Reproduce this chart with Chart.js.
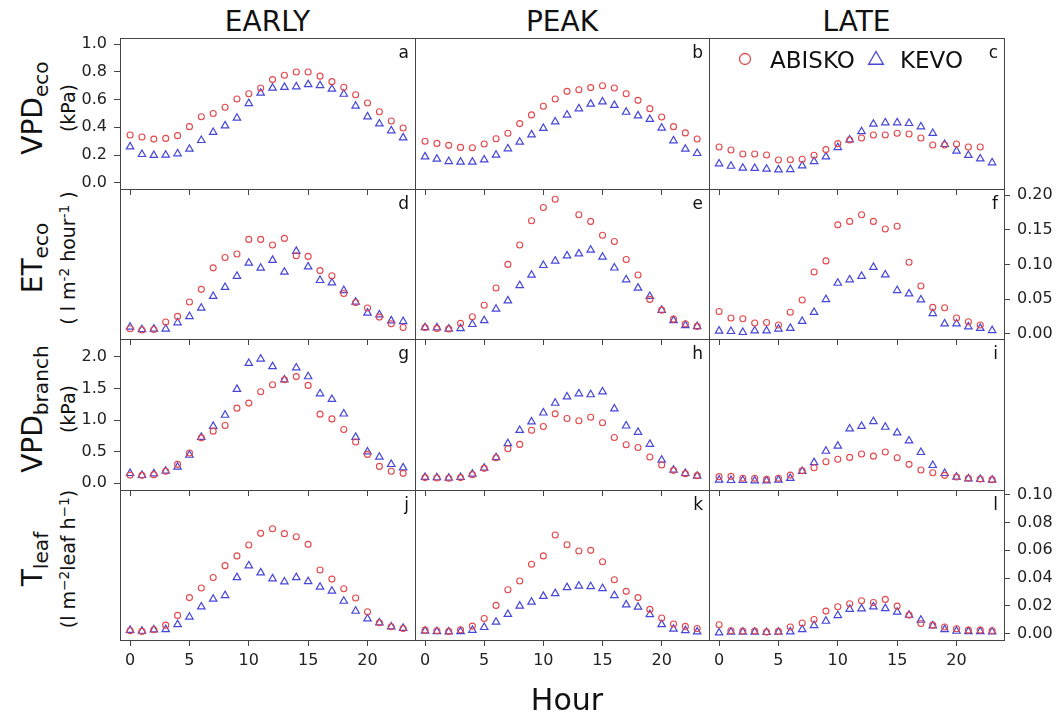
<!DOCTYPE html>
<html>
<head>
<meta charset="utf-8">
<script src="https://cdn.jsdelivr.net/npm/chart.js@4.4.1/dist/chart.umd.min.js"></script>
<style>
  body { margin: 0; background: #fff; }
  #page { position: relative; width: 1056px; height: 713px; overflow: hidden; font-family: 'DejaVu Sans', sans-serif; color: #111; }
  .panel { position: absolute; }
  .title { position: absolute; top: 5px; font-size: 28px; line-height: 34px; text-align: center; }
  .hour { position: absolute; left: 467px; width: 200px; top: 682px; font-size: 30px; line-height: 36px; text-align: center; }
  .ylab { position: absolute; width: 220px; text-align: center; transform: rotate(-90deg); white-space: nowrap; }
  .ylab .l1 { font-size: 28px; line-height: 34px; }
  .ylab .l2 { font-size: 19px; line-height: 24px; margin-top: 6px; }
  .ylab sub { font-size: 0.72em; vertical-align: -0.28em; line-height: 0; }
  .ylab sup { font-size: 0.72em; vertical-align: 0.45em; line-height: 0; }
</style>
</head>
<body>
<div id="page"></div>
<script>
// hours of the day and axis ticks
const hours = [0,1,2,3,4,5,6,7,8,9,10,11,12,13,14,15,16,17,18,19,20,21,22,23];
const xTicks = [0, 5, 10, 15, 20];
const periods = ['EARLY', 'PEAK', 'LATE'];
const siteNames = ['ABISKO', 'KEVO'];
const panelLetters = ['a','b','c','d','e','f','g','h','i','j','k','l'];
const yTicksVpdEco = [0.0, 0.2, 0.4, 0.6, 0.8, 1.0];
const yTicksEtEco = [0.00, 0.05, 0.10, 0.15, 0.20];
const yTicksVpdBranch = [0.0, 0.5, 1.0, 1.5, 2.0];
const yTicksTleaf = [0.00, 0.02, 0.04, 0.06, 0.08, 0.10];

// VPD eco (kPa)
const abiskoVpdEcoEarly = [0.345,0.33,0.315,0.32,0.34,0.405,0.477,0.50,0.545,0.605,0.643,0.684,0.745,0.776,0.80,0.80,0.77,0.73,0.69,0.636,0.576,0.513,0.446,0.395];
const kevoVpdEcoEarly   = [0.26,0.205,0.198,0.20,0.21,0.243,0.306,0.364,0.412,0.467,0.573,0.648,0.684,0.69,0.694,0.71,0.703,0.677,0.64,0.554,0.477,0.426,0.376,0.325];
const abiskoVpdEcoPeak  = [0.30,0.284,0.27,0.255,0.253,0.28,0.318,0.357,0.427,0.49,0.552,0.605,0.66,0.672,0.687,0.70,0.684,0.643,0.595,0.535,0.475,0.405,0.36,0.316];
const kevoVpdEcoPeak    = [0.188,0.171,0.154,0.15,0.15,0.166,0.20,0.246,0.294,0.347,0.393,0.44,0.49,0.535,0.569,0.585,0.56,0.51,0.484,0.458,0.395,0.304,0.243,0.212];
const abiskoVpdEcoLate  = [0.258,0.236,0.207,0.207,0.20,0.164,0.166,0.169,0.198,0.239,0.282,0.308,0.323,0.345,0.345,0.357,0.352,0.323,0.272,0.272,0.28,0.258,0.258,null];
const kevoVpdEcoLate    = [0.137,0.12,0.106,0.104,0.099,0.094,0.096,0.123,0.154,0.188,0.255,0.31,0.37,0.424,0.434,0.434,0.429,0.405,0.357,0.277,0.229,0.198,0.173,0.145];

// ET eco (l m-2 hour-1)
const abiskoEtEcoEarly = [0.0072,0.0053,0.006,0.017,0.025,0.0457,0.064,0.095,0.11,0.115,0.136,0.136,0.128,0.1375,0.1125,0.1115,0.091,0.0837,0.058,0.045,0.037,0.024,0.0144,0.009];
const kevoEtEcoEarly   = [0.0096,0.006,0.007,0.007,0.016,0.025,0.037,0.054,0.067,0.083,0.102,0.0947,0.106,0.089,0.119,0.0966,0.077,0.0735,0.0625,0.0457,0.030,0.0274,0.0188,0.0178];
const abiskoEtEcoPeak  = [0.009,0.0077,0.007,0.015,0.0245,0.041,0.066,0.10,0.128,0.163,0.182,0.194,null,0.1716,0.162,0.142,0.133,0.107,0.0846,0.0495,0.034,0.021,0.0144,0.0106];
const kevoEtEcoPeak    = [0.009,0.0087,0.007,0.0077,0.0135,0.019,0.0356,0.0476,0.0697,0.0846,0.0986,0.105,0.1125,0.1154,0.1207,0.1106,0.095,0.078,0.066,0.054,0.034,0.019,0.012,0.0106];
const abiskoEtEcoLate  = [0.032,0.0226,0.0216,0.0154,0.0163,0.0125,0.031,0.0486,0.089,0.105,0.157,0.162,0.1716,0.162,0.151,0.155,0.103,0.0688,0.038,0.0375,0.0226,0.0173,0.0125,null];
const kevoEtEcoLate    = [0.004,0.0034,0.002,0.0043,0.0043,0.007,0.008,0.018,0.031,0.0495,0.073,0.078,0.083,0.096,0.085,0.0625,0.0577,0.049,0.0293,0.0144,0.0144,0.010,0.008,0.0048];

// VPD branch (kPa)
const abiskoVpdBranchEarly = [0.13,0.126,0.137,0.19,0.30,0.479,0.72,0.826,0.916,1.19,1.27,1.45,1.56,1.64,1.69,1.55,1.095,1.02,0.853,0.653,0.458,0.268,0.19,0.158];
const kevoVpdBranchEarly   = [0.158,0.126,0.153,0.195,0.258,0.447,0.73,0.905,1.08,1.49,1.90,1.97,1.85,1.64,1.83,1.69,1.42,1.33,1.10,0.73,0.50,0.416,0.30,0.247];
const abiskoVpdBranchPeak  = [0.09,0.084,0.079,0.09,0.137,0.237,0.405,0.547,0.616,0.84,0.9,1.10,1.026,0.99,1.047,0.958,0.726,0.61,0.568,0.416,0.29,0.205,0.153,0.121];
const kevoVpdBranchPeak    = [0.095,0.09,0.084,0.095,0.147,0.242,0.41,0.63,0.84,0.974,1.116,1.27,1.37,1.42,1.405,1.45,1.18,0.91,0.81,0.62,0.368,0.21,0.158,0.116];
const abiskoVpdBranchLate  = [0.105,0.11,0.079,0.079,0.063,0.079,0.13,0.20,0.247,0.342,0.38,0.41,0.463,0.43,0.495,0.405,0.30,0.21,0.168,0.126,0.10,0.079,0.068,0.058];
const kevoVpdBranchLate    = [0.053,0.047,0.047,0.042,0.042,0.053,0.079,0.19,0.33,0.51,0.59,0.863,0.905,0.98,0.89,0.80,0.674,0.49,0.284,0.158,0.10,0.074,0.063,0.053];

// T leaf (l m-2 leaf h-1)
const abiskoTleafEarly = [0.0022,0.0017,0.0029,0.0062,0.0132,0.026,0.0329,0.0405,0.049,0.056,0.0638,0.0722,0.0755,0.072,0.0698,0.0643,0.0458,0.0393,0.0324,0.0257,0.0158,0.0079,0.005,0.0038];
const kevoTleafEarly   = [0.0026,0.0019,0.0029,0.0031,0.0067,0.012,0.0194,0.025,0.0276,0.0405,0.049,0.0439,0.0396,0.0374,0.0405,0.0376,0.0336,0.0307,0.0235,0.0163,0.0108,0.0079,0.005,0.004];
const abiskoTleafPeak  = [0.0026,0.0022,0.0017,0.0029,0.0055,0.011,0.0204,0.0317,0.0379,0.05,0.056,0.071,0.064,0.0595,0.06,0.0518,0.0388,0.0305,0.026,0.0175,0.0113,0.007,0.0053,0.0038];
const kevoTleafPeak    = [0.0019,0.0017,0.0014,0.0017,0.0026,0.0046,0.0084,0.014,0.02,0.0228,0.027,0.029,0.0333,0.0343,0.034,0.0326,0.0276,0.0209,0.0192,0.0139,0.0067,0.0034,0.0024,0.0014];
const abiskoTleafLate  = [0.0065,0.0022,0.0019,0.0019,0.0012,0.0017,0.0048,0.0077,0.0103,0.0163,0.0194,0.0216,0.0237,0.0225,0.0247,0.0199,0.0134,0.0074,0.0062,0.0048,0.0036,0.0026,0.0026,0.0022];
const kevoTleafLate    = [0.0007,0.0012,0.0012,0.0012,0.001,0.0012,0.0014,0.0031,0.006,0.0091,0.0132,0.0177,0.018,0.0194,0.0182,0.0156,0.0134,0.0098,0.0058,0.0031,0.0019,0.0017,0.0017,0.0014];

const panelData = [
  [[abiskoVpdEcoEarly, kevoVpdEcoEarly], [abiskoVpdEcoPeak, kevoVpdEcoPeak], [abiskoVpdEcoLate, kevoVpdEcoLate]],
  [[abiskoEtEcoEarly, kevoEtEcoEarly], [abiskoEtEcoPeak, kevoEtEcoPeak], [abiskoEtEcoLate, kevoEtEcoLate]],
  [[abiskoVpdBranchEarly, kevoVpdBranchEarly], [abiskoVpdBranchPeak, kevoVpdBranchPeak], [abiskoVpdBranchLate, kevoVpdBranchLate]],
  [[abiskoTleafEarly, kevoTleafEarly], [abiskoTleafPeak, kevoTleafPeak], [abiskoTleafLate, kevoTleafLate]]
];

// row settings: where the y axis sits and its range
const rows = [
  { side: 'left',  ticks: yTicksVpdEco,    dec: 1, min: -0.0455, max: 1.0455,
    l1: 'VPD<sub>eco</sub>', l2: '(kPa)' },
  { side: 'right', ticks: yTicksEtEco,     dec: 2, min: -0.0076, max: 0.2087,
    l1: 'ET<sub>eco</sub>', l2: '( l m<sup>-2</sup> hour<sup>-1</sup> )' },
  { side: 'left',  ticks: yTicksVpdBranch, dec: 1, min: -0.106,  max: 2.285,
    l1: 'VPD<sub>branch</sub>', l2: '(kPa)' },
  { side: 'right', ticks: yTicksTleaf,     dec: 2, min: -0.0045, max: 0.1034,
    l1: 'T<sub>leaf</sub>', l2: '(l m<sup>−2</sup>leaf h<sup>−1</sup>)' }
];

const RED = '#e2474b';
const BLUE = '#4646d8';
const colEdges = [120, 415, 709, 1004];
const rowEdges = [38, 189, 339, 490, 640];
const M = 60;
const TICK = 6;
const Y_AXIS_W = 52;

Chart.defaults.font.family = "'DejaVu Sans', sans-serif";

const page = document.getElementById('page');

// frame, panel letter and (for panel c) the legend
const framePlugin = {
  id: 'frame',
  afterDraw(chart, args, opts) {
    const ctx = chart.ctx;
    const a = chart.chartArea;
    ctx.save();
    ctx.strokeStyle = '#444';
    ctx.lineWidth = 1;
    ctx.strokeRect(Math.round(a.left) + 0.5, Math.round(a.top) + 0.5,
      Math.round(a.right - a.left), Math.round(a.bottom - a.top));
    ctx.fillStyle = '#111';
    ctx.font = "17px 'DejaVu Sans'";
    ctx.textAlign = 'right';
    ctx.textBaseline = 'alphabetic';
    ctx.fillText(opts.letter, a.right - 6, a.top + 20);
    if (opts.legend) {
      const cy = a.top + 21;
      ctx.lineWidth = 1.3;
      ctx.strokeStyle = RED;
      ctx.beginPath();
      ctx.arc(a.left + 36, cy, 5.5, 0, Math.PI * 2);
      ctx.stroke();
      ctx.strokeStyle = BLUE;
      ctx.beginPath();
      const tx = a.left + 167, r = 8.5;
      for (let k = 0; k < 3; k++) {
        const ang = -Math.PI / 2 + k * 2 * Math.PI / 3;
        const px = tx + Math.cos(ang) * r, py = cy + 1 + Math.sin(ang) * r;
        if (k === 0) ctx.moveTo(px, py); else ctx.lineTo(px, py);
      }
      ctx.closePath();
      ctx.stroke();
      ctx.fillStyle = '#111';
      ctx.font = "23px 'DejaVu Sans'";
      ctx.textAlign = 'left';
      ctx.fillText(siteNames[0], a.left + 61, a.top + 30);
      ctx.fillText(siteNames[1], a.left + 191, a.top + 30);
    }
    ctx.restore();
  }
};

function toPoints(values) {
  return hours.map((h, i) => ({ x: h, y: values[i] })).filter(p => p.y !== null);
}

function buildPanel(r, c) {
  const x0 = colEdges[c], x1 = colEdges[c + 1];
  const y0 = rowEdges[r], y1 = rowEdges[r + 1];
  const row = rows[r];
  const showY = (row.side === 'left' && c === 0) || (row.side === 'right' && c === 2);
  const isBottom = r === rows.length - 1;
  const xAxisH = isBottom ? 34 : TICK;

  const box = document.createElement('div');
  box.className = 'panel';
  box.style.left = (x0 - M) + 'px';
  box.style.top = (y0 - M) + 'px';
  box.style.width = (x1 - x0 + 2 * M) + 'px';
  box.style.height = (y1 - y0 + 2 * M) + 'px';
  const canvas = document.createElement('canvas');
  box.appendChild(canvas);
  page.appendChild(box);

  const [abisko, kevo] = panelData[r][c];
  new Chart(canvas, {
    type: 'scatter',
    data: {
      datasets: [{
        label: siteNames[0],
        data: toPoints(abisko),
        pointStyle: 'circle',
        pointRadius: 3,
        pointBorderWidth: 1.1,
        borderColor: RED,
        pointBorderColor: RED,
        backgroundColor: 'rgba(0,0,0,0)',
        pointBackgroundColor: 'rgba(0,0,0,0)'
      }, {
        label: siteNames[1],
        data: toPoints(kevo),
        pointStyle: 'triangle',
        pointRadius: 4.3,
        pointBorderWidth: 1.2,
        borderColor: BLUE,
        pointBorderColor: BLUE,
        backgroundColor: 'rgba(0,0,0,0)',
        pointBackgroundColor: 'rgba(0,0,0,0)'
      }]
    },
    options: {
      animation: false,
      responsive: true,
      maintainAspectRatio: false,
      events: [],
      layout: {
        padding: {
          left: M - (showY && row.side === 'left' ? Y_AXIS_W : 0),
          right: M - (showY && row.side === 'right' ? Y_AXIS_W : 0),
          top: M,
          bottom: M - xAxisH
        }
      },
      scales: {
        x: {
          type: 'linear',
          min: -0.85,
          max: 24,
          afterBuildTicks: s => { s.ticks = xTicks.map(v => ({ value: v })); },
          afterFit: s => { s.height = xAxisH; },
          ticks: { display: isBottom, padding: 5, color: '#222', font: { size: 16 } },
          grid: { drawOnChartArea: false, tickLength: TICK, color: '#444' },
          border: { display: false }
        },
        y: {
          display: showY,
          position: row.side,
          min: row.min,
          max: row.max,
          afterBuildTicks: s => { s.ticks = row.ticks.map(v => ({ value: v })); },
          afterFit: s => { s.width = showY ? Y_AXIS_W : 0; },
          ticks: { padding: 7, color: '#222', font: { size: 16 }, callback: v => v.toFixed(row.dec) },
          grid: { drawOnChartArea: false, tickLength: TICK, color: '#444' },
          border: { display: false }
        }
      },
      plugins: {
        legend: { display: false },
        tooltip: { enabled: false },
        frame: { letter: panelLetters[r * 3 + c], legend: r === 0 && c === 2 }
      }
    },
    plugins: [framePlugin]
  });
}

// column titles
periods.forEach((p, c) => {
  const t = document.createElement('div');
  t.className = 'title';
  t.style.left = colEdges[c] + 'px';
  t.style.width = (colEdges[c + 1] - colEdges[c]) + 'px';
  t.textContent = p;
  page.appendChild(t);
});

// row labels
rows.forEach((row, r) => {
  const d = document.createElement('div');
  d.className = 'ylab';
  const cy = (rowEdges[r] + rowEdges[r + 1]) / 2 - 6;
  d.style.left = (48 - 110) + 'px';
  d.style.top = (cy - 32) + 'px';
  d.innerHTML = '<div class="l1">' + row.l1 + '</div><div class="l2">' + row.l2 + '</div>';
  page.appendChild(d);
});

for (let r = 0; r < rows.length; r++) {
  for (let c = 0; c < periods.length; c++) buildPanel(r, c);
}

const hourLabel = document.createElement('div');
hourLabel.className = 'hour';
hourLabel.textContent = 'Hour';
page.appendChild(hourLabel);
</script>
</body>
</html>
